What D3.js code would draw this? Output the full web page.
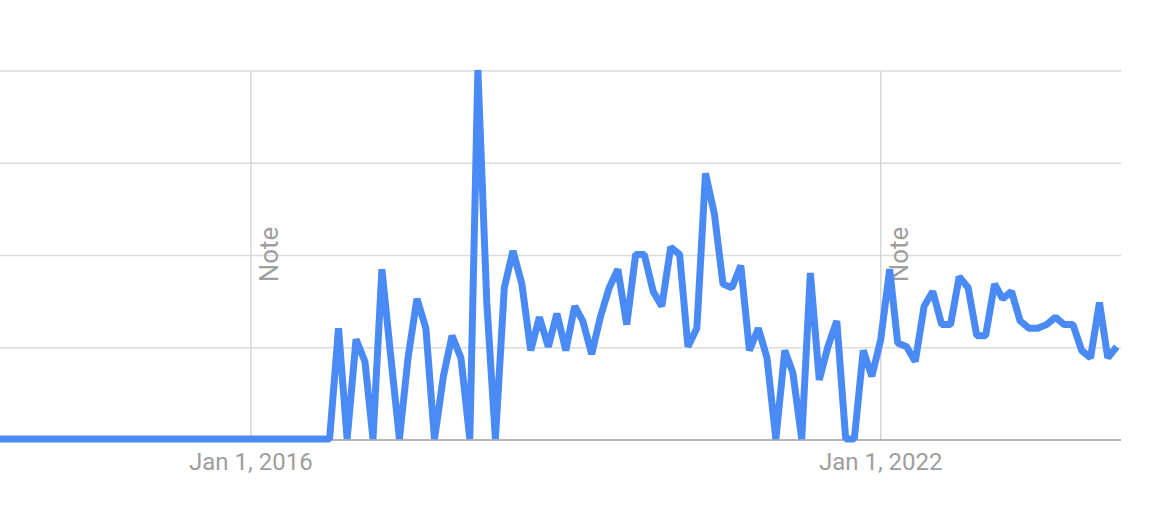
<!DOCTYPE html>
<html>
<head>
<meta charset="utf-8">
<script src="https://cdn.jsdelivr.net/npm/d3@7"></script>
<style>
  html, body { margin: 0; padding: 0; background: #fff; }
  svg { display: block; font-family: Roboto, "Noto Sans", sans-serif; }
</style>
</head>
<body>
<div id="wrapper"></div>
<script>
// data: monthly interest, first month Aug 2013
const firstMonth = "2013-08-01"
const values = [
  // 2013 Aug-Dec
  0, 0, 0, 0, 0,
  // 2014
  0, 0, 0, 0, 0, 0, 0, 0, 0, 0, 0, 0,
  // 2015
  0, 0, 0, 0, 0, 0, 0, 0, 0, 0, 0, 0,
  // 2016
  0, 0, 0, 0, 0, 0, 0, 0, 0, 0, 30, 0,
  // 2017
  27, 21, 0, 46, 23, 0, 22, 38, 30, 0, 17, 28,
  // 2018
  22, 0, 100, 37, 0, 41, 51, 42, 24, 33, 25, 34,
  // 2019
  24, 36, 32, 23, 33, 41, 46, 31, 50, 50, 40, 36,
  // 2020
  52, 50, 25, 30, 72, 61, 42, 41, 47, 24, 30, 22,
  // 2021
  0, 24, 18, 0, 45, 16, 25, 32, 0, 0, 24, 17,
  // 2022
  27, 46, 26, 25, 21, 36, 40, 31, 31, 44, 41, 28,
  // 2023
  28, 42, 38, 40, 32, 30, 30, 31, 33, 31, 31, 24,
  // 2024
  22, 37, 22, 25
]
const yTicks = [0, 25, 50, 75, 100]
const xTickDates = ["2016-01-01", "2022-01-01"]
const xTickLabels = ["Jan 1, 2016", "Jan 1, 2022"]
const noteDates = ["2016-01-01", "2022-01-01"]
const noteLabel = "Note"
const xExtent = ["2013-08-11", "2024-04-16"]

const parse = d3.utcParse("%Y-%m-%d")
const start = parse(firstMonth)
const data = values.map((v, i) => ({ date: d3.utcMonth.offset(start, i), value: v }))

const xAccessor = d => d.date
const yAccessor = d => d.value

// dimensions
let dimensions = {
  width: 1168,
  height: 520,
  margin: { top: 71, right: 47, bottom: 80, left: 0 },
}
dimensions.boundedWidth = dimensions.width - dimensions.margin.left - dimensions.margin.right
dimensions.boundedHeight = dimensions.height - dimensions.margin.top - dimensions.margin.bottom

const wrapper = d3.select("#wrapper")
  .append("svg")
    .attr("width", dimensions.width)
    .attr("height", dimensions.height)

const bounds = wrapper.append("g")
    .attr("transform", `translate(${dimensions.margin.left},${dimensions.margin.top})`)

// scales
const xScale = d3.scaleUtc()
    .domain(xExtent.map(parse))
    .range([0, dimensions.boundedWidth])

const yScale = d3.scaleLinear()
    .domain([0, 100])
    .range([dimensions.boundedHeight, 0])

// grid
bounds.append("g")
  .selectAll("line")
  .data(yTicks.filter(d => d > 0))
  .join("line")
    .attr("x1", 0)
    .attr("x2", dimensions.boundedWidth)
    .attr("y1", d => yScale(d))
    .attr("y2", d => yScale(d))
    .attr("stroke", "#dadce0")
    .attr("stroke-width", 1.5)

bounds.append("g")
  .selectAll("line")
  .data(xTickDates.map(parse))
  .join("line")
    .attr("x1", d => xScale(d))
    .attr("x2", d => xScale(d))
    .attr("y1", 0)
    .attr("y2", dimensions.boundedHeight)
    .attr("stroke", "#d5d5d5")
    .attr("stroke-width", 1.5)

// notes
bounds.append("g")
  .selectAll("text")
  .data(noteDates.map(parse))
  .join("text")
    .attr("transform", d => `translate(${xScale(d) + 27},${yScale(50) - 1}) rotate(-90)`)
    .attr("text-anchor", "middle")
    .attr("fill", "#9e9e9e")
    .style("font-size", "26px")
    .text(noteLabel)

// line
const clipId = "plot-clip"
wrapper.append("defs").append("clipPath")
    .attr("id", clipId)
  .append("rect")
    .attr("x", 0)
    .attr("y", -10)
    .attr("width", dimensions.boundedWidth)
    .attr("height", dimensions.boundedHeight + 20)

const lineGenerator = d3.line()
    .x(d => xScale(xAccessor(d)))
    .y(d => yScale(yAccessor(d)) - 1)

// baseline
bounds.append("line")
    .attr("x1", 0)
    .attr("x2", dimensions.boundedWidth)
    .attr("y1", dimensions.boundedHeight)
    .attr("y2", dimensions.boundedHeight)
    .attr("stroke", "#9e9e9e")
    .attr("stroke-width", 1.5)

bounds.append("path")
    .attr("clip-path", `url(#${clipId})`)
    .attr("d", lineGenerator(data))
    .attr("fill", "none")
    .attr("stroke", "#4a8af4")
    .attr("stroke-width", 7)
    .attr("stroke-linejoin", "bevel")

// x axis labels
bounds.append("g")
  .selectAll("text")
  .data(xTickDates.map(parse))
  .join("text")
    .attr("x", d => xScale(d))
    .attr("y", dimensions.boundedHeight + 30)
    .attr("text-anchor", "middle")
    .attr("fill", "#9e9e9e")
    .style("font-size", "24px")
    .text((d, i) => xTickLabels[i])
</script>
</body>
</html>
